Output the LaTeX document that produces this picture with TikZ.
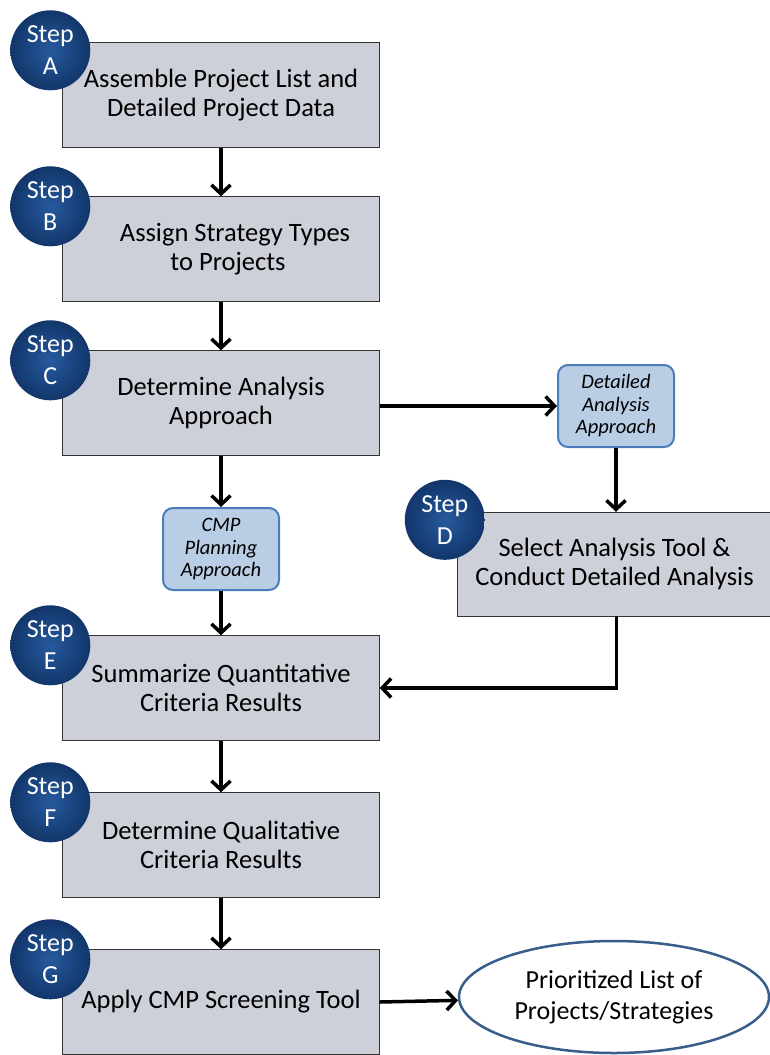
\documentclass[tikz,border=0pt]{standalone}
\usepackage{fontspec}
\setmainfont{Carlito}
\usetikzlibrary{shapes.geometric,arrows.meta}

\definecolor{boxgray}{RGB}{205,207,217}
\definecolor{stepblue}{RGB}{18,54,106}
\definecolor{steplight}{RGB}{38,90,158}
\definecolor{approachfill}{RGB}{185,205,229}
\definecolor{approachline}{RGB}{74,126,187}
\definecolor{ovalline}{RGB}{56,93,138}

\tikzstyle{process} = [rectangle, minimum width=317pt, minimum height=105pt, text centered, align=center, draw=black!80, fill=boxgray, font=\fontsize{26.5}{29}\selectfont]
\tikzstyle{stepcircle} = [circle, minimum size=80pt, inner sep=0pt, align=center, text=white, inner color=steplight, outer color=stepblue, font=\fontsize{26}{32}\selectfont]
\tikzstyle{approach} = [rectangle, rounded corners=10pt, minimum width=116pt, minimum height=82pt, align=center, draw=approachline, line width=2pt, fill=approachfill, font=\fontsize{20.5}{22.5}\selectfont\itshape]
\tikzstyle{result} = [ellipse, minimum width=310pt, minimum height=112pt, align=center, draw=ovalline, line width=2.5pt, fill=white, font=\fontsize{26}{31}\selectfont]
\tikzstyle{arrow} = [line width=3.5pt,->,>={Straight Barb[length=9pt,width=19pt]}]

\begin{document}
\begin{tikzpicture}[x=1pt, y=-1pt, node distance=154pt]
        \useasboundingbox (0,0) rectangle (770,1055);
        \clip (0,0) rectangle (770,1055);

        % Nodes
        \node (assemble) [process] at (221,95) {Assemble Project List and\\Detailed Project Data};
        \node (assign) [process, below of=assemble] {\hspace*{28pt}Assign Strategy Types\\\hspace*{14pt}to Projects};
        \node (determine) [process, below of=assign] {Determine Analysis\\Approach};
        \node (detailed) [approach] at (616,406) {Detailed\\Analysis\\Approach};
        \node (cmp) [approach] at (221,549) {CMP\\Planning\\Approach};
        \node (select) [process, minimum width=315pt, minimum height=104pt] at (614.5,564) {Select Analysis Tool \&\\Conduct Detailed Analysis};
        \node (summarize) [process] at (221,688) {Summarize Quantitative\\Criteria Results};
        \node (qualitative) [process, below of=summarize, node distance=157pt] {Determine Qualitative\\Criteria Results};
        \node (screening) [process, below of=qualitative, node distance=157pt] {Apply CMP Screening Tool};
        \node (prioritized) [result] at (614,997) {Prioritized List of\\Projects/Strategies};

        % Step markers
        \node (stepA) [stepcircle] at ([shift={(-12,8)}]assemble.north west) {Step\\A};
        \node (stepB) [stepcircle] at ([shift={(-12,10)}]assign.north west) {Step\\B};
        \node (stepC) [stepcircle] at ([shift={(-12,10)}]determine.north west) {Step\\C};
        \node (stepD) [stepcircle] at ([shift={(-12,8)}]select.north west) {Step\\D};
        \node (stepE) [stepcircle] at ([shift={(-12,10)}]summarize.north west) {Step\\E};
        \node (stepF) [stepcircle] at ([shift={(-12,10)}]qualitative.north west) {Step\\F};
        \node (stepG) [stepcircle] at ([shift={(-12,10)}]screening.north west) {Step\\G};

        % Arrows
        \draw [arrow] (assemble) -- (assign);
        \draw [arrow] (assign) -- (determine);
        \draw [arrow] (determine) -- (cmp);
        \draw [arrow] (determine.east |- detailed) -- (detailed);
        \draw [arrow] (detailed) -- (detailed |- select.north);
        \draw [arrow] (cmp) -- (summarize);
        \draw [arrow] ([xshift=2pt]select.south) |- (summarize.east);
        \draw [arrow] (summarize) -- (qualitative);
        \draw [arrow] (qualitative) -- (screening);
        \draw [arrow] (screening.east) -- (prioritized);
    \end{tikzpicture}
\end{document}
